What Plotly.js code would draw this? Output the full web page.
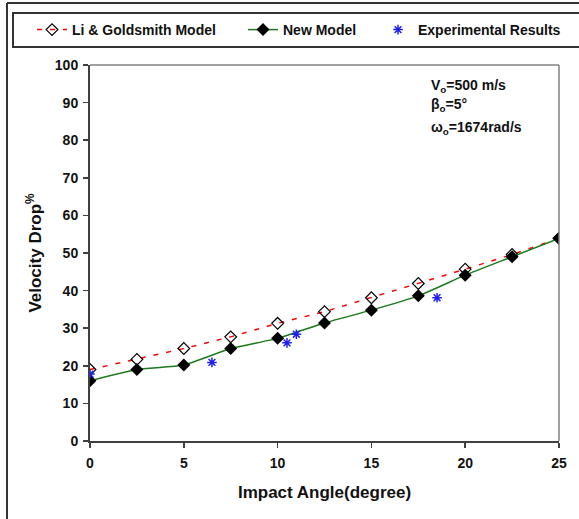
<!DOCTYPE html>
<html><head><meta charset="utf-8">
<script src="https://cdn.plot.ly/plotly-3.0.1.min.js"></script>
<style>html,body{margin:0;padding:0;background:#fff;}#chart{width:579px;height:519px;}</style>
</head><body><div id="chart"></div>
<script>
const angles = [0, 2.5, 5, 7.5, 10, 12.5, 15, 17.5, 20, 22.5, 25];
const liGoldsmith = [19.0, 21.7, 24.6, 27.7, 31.3, 34.4, 38.1, 41.9, 45.7, 49.6, 53.9];
const newModel = [16.0, 19.0, 20.2, 24.6, 27.3, 31.4, 34.8, 38.6, 44.1, 49.0, 53.9];
const expAngles = [0, 6.5, 10.5, 11, 18.5];
const expValues = [17.8, 20.9, 26.1, 28.4, 38.1];
const xTicks = [0, 5, 10, 15, 20, 25];
const yTicks = [0, 10, 20, 30, 40, 50, 60, 70, 80, 90, 100];
const seriesNames = ['Li & Goldsmith Model', 'New Model', 'Experimental Results'];

const FONT = 'Liberation Sans, Arial, sans-serif';
const L = 90, R = 20, T = 65, B = 78, W = 579, H = 519;
const pw = W - L - R, ph = H - T - B;
const px = v => (v - L) / pw;
const py = v => (H - B - v) / ph;

const traces = [
  {x: angles, y: liGoldsmith, name: seriesNames[0], mode: 'lines+markers', type: 'scatter', legend: 'legend',
   line: {color: '#ff0000', width: 1.5, dash: '5px,8px'},
   marker: {symbol: 'diamond-open', size: 9, color: '#000', line: {width: 1.2, color: '#000'}}},
  {x: angles, y: newModel, name: seriesNames[1], mode: 'lines+markers', type: 'scatter', legend: 'legend2',
   line: {color: '#1b7a1b', width: 1.5, shape: 'spline', smoothing: 0.5},
   marker: {symbol: 'diamond', size: 10, color: '#000'}},
  {x: expAngles, y: expValues, name: seriesNames[2], mode: 'markers', type: 'scatter', legend: 'legend3',
   marker: {symbol: 'asterisk-open', size: 8, color: '#2020ee', line: {width: 1.5, color: '#2020ee'}}}
];

const axisCommon = {showgrid: false, zeroline: false, showline: true, linecolor: '#404040', linewidth: 2,
  ticks: 'outside', ticklen: 5, tickcolor: '#404040', tickwidth: 1.5,
  tickfont: {family: FONT, size: 14, color: '#111', weight: 'bold'}};

const legendBase = x => ({orientation: 'h', x: px(x), xanchor: 'left', y: py(30), yanchor: 'middle',
  font: {family: FONT, size: 14, color: '#111', weight: 'bold'}, bgcolor: 'rgba(0,0,0,0)', borderwidth: 0});

const layout = {
  width: W, height: H, margin: {l: L, r: R, t: T, b: B},
  paper_bgcolor: '#fff', plot_bgcolor: '#fff',
  showlegend: true,
  legend: legendBase(32),
  legend2: legendBase(243),
  legend3: legendBase(378),
  xaxis: Object.assign({}, axisCommon, {range: [0, 25], tickvals: xTicks, ticklabelstandoff: 3,
    title: {text: 'Impact Angle(degree)', font: {family: FONT, size: 17, color: '#111', weight: 'bold'}, standoff: 16}}),
  yaxis: Object.assign({}, axisCommon, {range: [0, 100], tickvals: yTicks, ticklabelstandoff: 2,
    title: {text: 'Velocity Drop<sup>%</sup>', font: {family: FONT, size: 17, color: '#111', weight: 'bold'}, standoff: 9}}),
  shapes: [
    {type: 'line', xref: 'paper', yref: 'paper', x0: 0, x1: 1, y0: 1, y1: 1, line: {color: '#808080', width: 1.5}},
    {type: 'line', xref: 'paper', yref: 'paper', x0: 1, x1: 1, y0: 0, y1: 1, line: {color: '#808080', width: 1.5}},
    {type: 'line', xref: 'paper', yref: 'paper', x0: px(7), x1: px(7), y0: py(3), y1: py(530), line: {color: '#333', width: 2}},
    {type: 'line', xref: 'paper', yref: 'paper', x0: px(7), x1: px(600), y0: py(3), y1: py(3), line: {color: '#333', width: 2}},
    {type: 'rect', xref: 'paper', yref: 'paper', x0: px(13), x1: px(600), y0: py(47), y1: py(13), line: {color: '#333', width: 2}}
  ],
  annotations: [
    {xref: 'paper', yref: 'paper', x: px(429), y: py(86), xanchor: 'left', yanchor: 'middle', showarrow: false,
     text: 'V<sub>o</sub>=500 m/s', font: {family: FONT, size: 14, color: '#111', weight: 'bold'}},
    {xref: 'paper', yref: 'paper', x: px(429), y: py(105), xanchor: 'left', yanchor: 'middle', showarrow: false,
     text: 'β<sub>o</sub>=5°', font: {family: FONT, size: 14, color: '#111', weight: 'bold'}},
    {xref: 'paper', yref: 'paper', x: px(429), y: py(128), xanchor: 'left', yanchor: 'middle', showarrow: false,
     text: 'ω<sub>o</sub>=1674rad/s', font: {family: FONT, size: 14, color: '#111', weight: 'bold'}}
  ]
};

Plotly.newPlot('chart', traces, layout, {displayModeBar: false, staticPlot: true});
</script></body></html>
